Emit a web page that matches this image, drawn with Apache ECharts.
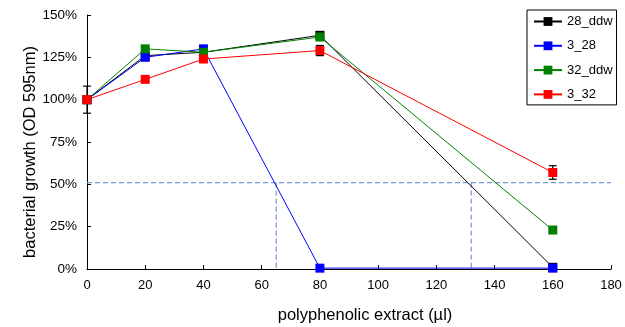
<!DOCTYPE html>
<html><head><meta charset="utf-8">
<script src="https://cdn.jsdelivr.net/npm/echarts@6/dist/echarts.min.js"></script>
<style>html,body{margin:0;padding:0;background:#fff}#c{width:625px;height:327px}</style>
</head><body><div id="c"></div>
<script>
const doses = [0, 20, 40, 80, 160];
const s28ddw = [100, 126, 128, 138, 1];
const s3_28 = [100, 125, 130, 0.5, 0.5];
const s32ddw = [100, 130, 128, 137, 23];
const s3_32 = [100, 112, 124, 129, 57];
const err28ddw = [8, 0, 0, 2, 2];
const err3_32 = [0, 0, 0, 3, 4];
const threshold = 51;
const ic50 = [65, 132];
const xTicks = [0, 180, 20];
const yTicks = [0, 150, 25];

const seriesNames = ['28_ddw', '3_28', '32_ddw', '3_32'];
const seriesVals = [s28ddw, s3_28, s32ddw, s3_32];
const colors = ['#000000', '#0000ff', '#008000', '#ff0000'];

const errPts = [];
[[s28ddw, err28ddw], [s3_32, err3_32]].forEach(([v, e]) => {
  doses.forEach((d, i) => { if (e[i] > 0) errPts.push([d, v[i] - e[i], v[i] + e[i]]); });
});

const font = 'Liberation Sans, Arial, sans-serif';
const dashStyle = { color: '#6f9ad2', width: 1.2, type: [5, 3] };

const series = seriesNames.map((n, k) => ({
  name: n, type: 'line', data: doses.map((d, i) => [d, seriesVals[k][i]]),
  symbol: 'rect', symbolSize: 9, itemStyle: { color: colors[k] },
  lineStyle: { color: colors[k], width: 1 }, z: 3 + k, animation: false
}));

series.push({
  type: 'custom', z: 2, silent: true, animation: false,
  data: errPts,
  renderItem: (p, api) => {
    const x = api.value(0), lo = api.coord([x, api.value(1)]), hi = api.coord([x, api.value(2)]);
    const w = 4, st = { stroke: '#000', lineWidth: 1.2 };
    return { type: 'group', children: [
      { type: 'line', shape: { x1: lo[0], y1: lo[1], x2: hi[0], y2: hi[1] }, style: st },
      { type: 'line', shape: { x1: lo[0] - w, y1: lo[1], x2: lo[0] + w, y2: lo[1] }, style: st },
      { type: 'line', shape: { x1: hi[0] - w, y1: hi[1], x2: hi[0] + w, y2: hi[1] }, style: st }
    ]};
  }
});

series.push({
  type: 'line', silent: true, symbol: 'none', z: 1, animation: false,
  data: [[xTicks[0], threshold], [xTicks[1], threshold]], lineStyle: dashStyle
});
ic50.forEach(x => series.push({
  type: 'line', silent: true, symbol: 'none', z: 1, animation: false,
  data: [[x, threshold], [x, 0]], lineStyle: dashStyle
}));

const chart = echarts.init(document.getElementById('c'));
chart.setOption({
  animation: false,
  textStyle: { fontFamily: font },
  grid: { left: 87, right: 14, top: 15, bottom: 58, containLabel: false, outerBoundsMode: 'none' },
  legend: {
    data: seriesNames, orient: 'vertical', left: 527, top: 10,
    borderColor: '#000', borderWidth: 1, padding: [5, 4, 4, 6],
    itemWidth: 28, itemHeight: 11, itemGap: 11.3,
    textStyle: { fontSize: 13, color: '#000', fontFamily: font }
  },
  xAxis: {
    type: 'value', min: xTicks[0], max: xTicks[1], interval: xTicks[2],
    name: 'polyphenolic extract (µl)', nameLocation: 'middle', nameGap: 38, nameMoveOverlap: false,
    nameTextStyle: { fontSize: 16.5, color: '#000', padding: [0, 0, 0, 32] },
    axisLine: { lineStyle: { color: '#000', width: 1 } },
    axisTick: { inside: true, length: 4, lineStyle: { color: '#000' } },
    axisLabel: { fontSize: 13, color: '#000', margin: 10 },
    splitLine: { show: false }
  },
  yAxis: {
    type: 'value', min: yTicks[0], max: yTicks[1], interval: yTicks[2],
    name: 'bacterial growth (OD 595nm)', nameLocation: 'middle', nameGap: 48, nameMoveOverlap: false,
    nameTextStyle: { fontSize: 16.5, color: '#000', padding: [0, 20, 0, 0] },
    axisLine: { show: true, lineStyle: { color: '#000', width: 1 } },
    axisTick: { show: true, inside: true, length: 4, lineStyle: { color: '#000' } },
    axisLabel: { fontSize: 13.5, color: '#000', margin: 10, formatter: v => v + '%' },
    splitLine: { show: false }
  },
  series
});
</script></body></html>
